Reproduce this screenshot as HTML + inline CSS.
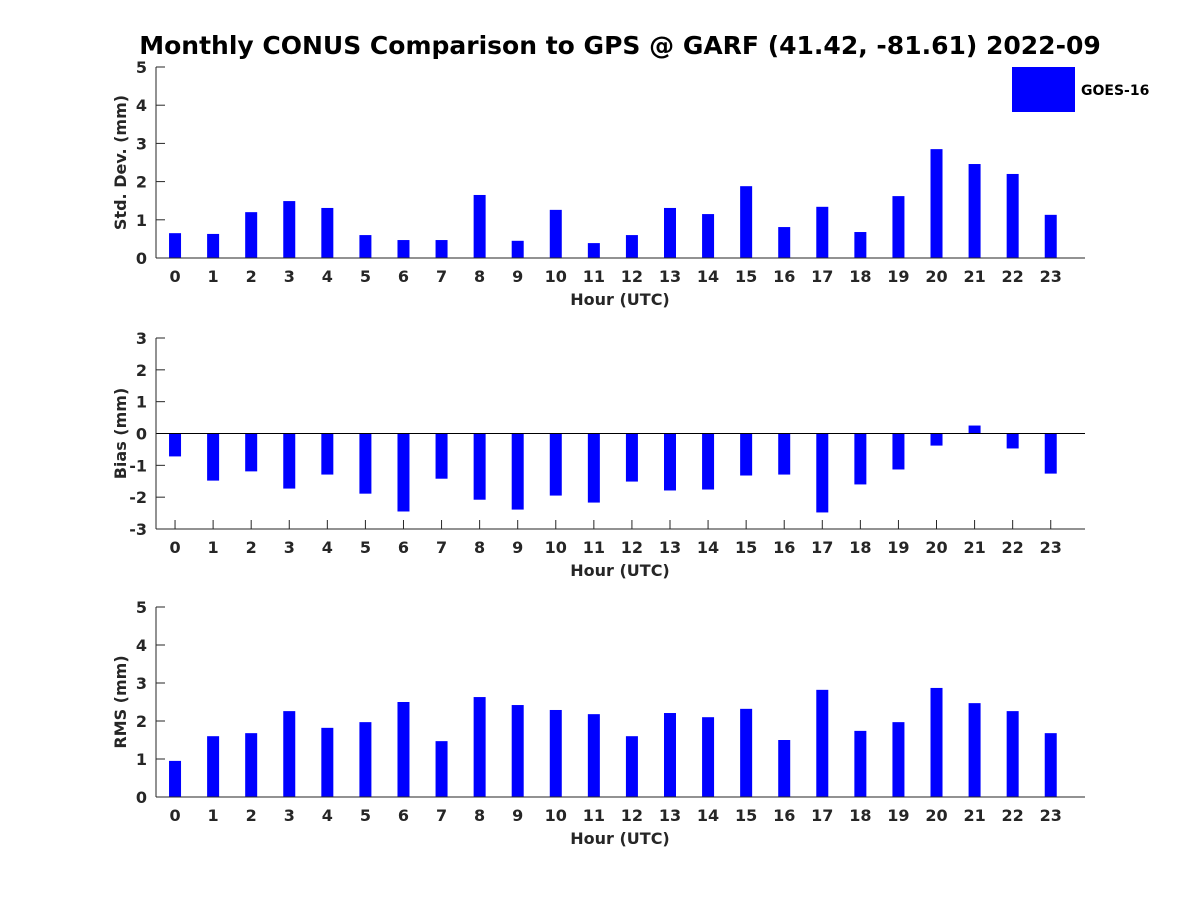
<!DOCTYPE html>
<html><head><meta charset="utf-8"><style>
body{margin:0;background:#fff;}
svg text{font-family:"DejaVu Sans","Liberation Sans",sans-serif;font-weight:bold;fill:#262626;}
</style></head><body>
<svg id="chart" width="1200" height="900" xmlns="http://www.w3.org/2000/svg">
<rect width="1200" height="900" fill="#fff"/>
<text x="620" y="54" text-anchor="middle" font-size="25" style="fill:#000">Monthly CONUS Comparison to GPS @ GARF (41.42, -81.61) 2022-09</text>
<rect x="1012" y="67" width="63" height="45" fill="#0000ff"/>
<text x="1081" y="95" font-size="14" style="fill:#000">GOES-16</text>
<g id="plots"></g>
</svg>
<script>
const hours=[0,1,2,3,4,5,6,7,8,9,10,11,12,13,14,15,16,17,18,19,20,21,22,23];
const stdValues=[0.65,0.63,1.2,1.49,1.31,0.6,0.47,0.47,1.65,0.45,1.26,0.39,0.6,1.31,1.15,1.88,0.81,1.34,0.68,1.62,2.85,2.46,2.2,1.13];
const biasValues=[-0.72,-1.48,-1.19,-1.73,-1.29,-1.89,-2.45,-1.42,-2.08,-2.39,-1.95,-2.17,-1.51,-1.79,-1.76,-1.32,-1.29,-2.48,-1.6,-1.13,-0.38,0.25,-0.47,-1.26];
const rmsValues=[0.95,1.6,1.68,2.26,1.82,1.97,2.5,1.47,2.63,2.42,2.29,2.18,1.6,2.21,2.1,2.32,1.5,2.82,1.74,1.97,2.87,2.47,2.26,1.68];
const stdTicks=[0,1,2,3,4,5];
const biasTicks=[-3,-2,-1,0,1,2,3];
const rmsTicks=[0,1,2,3,4,5];
const NS='http://www.w3.org/2000/svg';
const g=document.getElementById('plots');
function mk(t,a,txt){const e=document.createElementNS(NS,t);for(const k in a)e.setAttribute(k,a[k]);if(txt!==undefined)e.textContent=txt;g.appendChild(e);return e;}
const X0=156,X1=1085,xmin=-0.5,xmax=23.9;
function xs(v){return X0+(v-xmin)/(xmax-xmin)*(X1-X0);}
function panel(key,vals,ticks,top,bot,ylabel){
  const ymin=ticks[0],ymax=ticks[ticks.length-1];
  const ys=v=>bot-(v-ymin)/(ymax-ymin)*(bot-top);
  ticks.forEach(t=>{
    mk('line',{x1:X0,x2:X0+9,y1:ys(t),y2:ys(t),stroke:'#262626'});
    const l=mk('text',{x:X0-9,y:ys(t)+6,'text-anchor':'end','font-size':16},String(t));
    
  });
  hours.forEach(h=>{
    mk('line',{x1:xs(h),x2:xs(h),y1:bot,y2:bot-9,stroke:'#262626'});
    const l=mk('text',{x:xs(h),y:bot+24,'text-anchor':'middle','font-size':16},String(h));
    
  });
  const base=ys(Math.max(ymin,0));
  hours.forEach((h,i)=>{
    const yv=ys(vals[i]);
    const r=mk('rect',{x:xs(h)-6,y:Math.min(base,yv),width:12,height:Math.abs(base-yv),fill:'#0000ff'});
    
    
  });
  if(ymin<0){const z=mk('line',{x1:X0,x2:X1,y1:ys(0),y2:ys(0),stroke:'#000','stroke-width':1});
    }
  const ya=mk('line',{x1:X0,x2:X0,y1:top,y2:bot,stroke:'#262626','stroke-width':1});
  
  const xa=mk('line',{x1:X0,x2:X1,y1:bot,y2:bot,stroke:'#262626','stroke-width':1});
  
  const xt=mk('text',{x:620,y:bot+47,'text-anchor':'middle','font-size':16},'Hour (UTC)');
  
  const cy=(top+bot)/2;
  const yt=mk('text',{x:0,y:0,'text-anchor':'middle','font-size':16,transform:`translate(126,${cy}) rotate(-90)`},ylabel);
  
}
panel('std',stdValues,stdTicks,67,258,'Std. Dev. (mm)');
panel('bias',biasValues,biasTicks,338,529,'Bias (mm)');
panel('rms',rmsValues,rmsTicks,607,797,'RMS (mm)');
</script>
</body></html>
